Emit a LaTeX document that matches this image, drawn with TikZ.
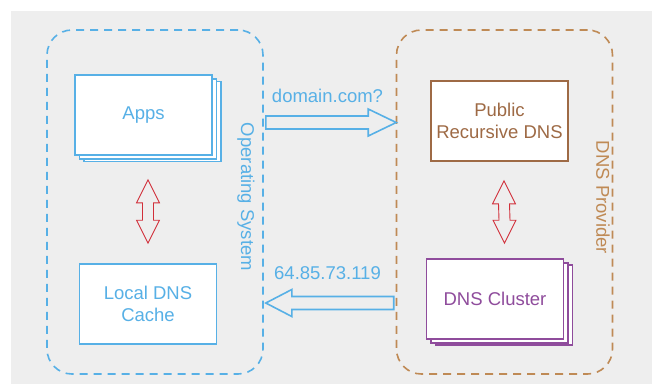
\documentclass[tikz,border=0pt]{standalone}
\usepackage{fontspec}
\setmainfont{Liberation Sans}
\usetikzlibrary{calc}
\definecolor{bgc}{HTML}{EEEEEE}
\definecolor{osblue}{HTML}{57B0E6}
\definecolor{provbrown}{HTML}{BF8A55}
\definecolor{boxbrown}{HTML}{9E6A45}
\definecolor{clpurple}{HTML}{8F4C9C}
\definecolor{arred}{HTML}{D12F3A}
\tikzset{
  every node/.style={font=\fontsize{18.5}{22}\selectfont, align=center, inner sep=0pt},
  container/.style={draw, line width=1.6pt, dash pattern=on 8pt off 6pt, rounded corners=25pt, minimum width=216pt, minimum height=344pt},
  procbox/.style={draw, fill=white, line width=1.6pt, minimum width=137pt, minimum height=80pt},
  bigarrow/.style={draw=osblue, line width=1.6pt, line join=miter},
  redarrow/.style={draw=arred, line width=0.9pt, line join=miter},
}
\newcommand\mydblarrow[2]{%
  \draw[redarrow] (#1) -- ($(#1)+(11.5,23)$) -- ($(#1)+(5.5,23)$) -- ($(#2)+(5.5,-23)$) -- ($(#2)+(11.5,-23)$) -- (#2)
    -- ($(#2)+(-11.5,-23)$) -- ($(#2)+(-5.5,-23)$) -- ($(#1)+(-5.5,23)$) -- ($(#1)+(-11.5,23)$) -- cycle;}
\begin{document}
\begin{tikzpicture}[x=1pt,y=-1pt]
\useasboundingbox (0,0) rectangle (652,384);
\fill[bgc] (11,11) rectangle (652,384);
% containers
\node[container, draw=osblue] (os) at (155,202) {};
\node[container, draw=provbrown] (prov) at (504.5,202) {};
\node[text=osblue, rotate=-90] (oslabel) at (246,197) {Operating System};
\node[text=provbrown, rotate=-90] (provlabel) at (603,197.5) {DNS Provider};
% apps stack
\node[procbox, draw=osblue] (apps3) at (152.5,121.5) {};
\node[procbox, draw=osblue] (apps2) at (148,119) {};
\node[procbox, draw=osblue, text=osblue] (apps) at (143.5,115) {Apps};
\node[procbox, draw=osblue, text=osblue] (local) at (148,304) {Local DNS\\Cache};
\node[procbox, draw=boxbrown, text=boxbrown] (pub) at (499.5,121) {Public\\Recursive DNS};
% cluster stack
\node[procbox, draw=clpurple] (cl3) at (504,305) {};
\node[procbox, draw=clpurple] (cl2) at (499.5,303) {};
\node[procbox, draw=clpurple, text=clpurple] (cl) at (495,299) {DNS Cluster};
% red double arrows
\coordinate (r1a) at ($(apps2.south)+(0,20)$);
\coordinate (r1b) at ($(local.north)+(0,-20)$);
\mydblarrow{r1a}{r1b}
\coordinate (r2a) at ($(pub.south)+(4.5,19)$);
\coordinate (r2b) at ($(cl.north)+(9.5,-15)$);
\mydblarrow{r2a}{r2b}
% query arrow
\coordinate (qa) at ($(os.east)+(2,-79.5)$);
\coordinate (qb) at ($(prov.west)+(0.5,-79.5)$);
\draw[bigarrow] ($(qa)+(0,6.5)$) -- ($(qb)+(-28,6.5)$) -- ($(qb)+(-28,13.5)$) -- (qb) -- ($(qb)+(-28,-13.5)$) -- ($(qb)+(-28,-6.5)$) -- ($(qa)+(0,-6.5)$) -- cycle;
\node[text=osblue] (qlabel) at (327.5,96) {domain.com?};
% answer arrow
\coordinate (aa) at ($(prov.west)+(-2,101)$);
\coordinate (ab) at ($(os.east)+(2,101)$);
\draw[bigarrow] ($(aa)+(0,6.5)$) -- ($(ab)+(26,6.5)$) -- ($(ab)+(26,13.5)$) -- (ab) -- ($(ab)+(26,-13.5)$) -- ($(ab)+(26,-6.5)$) -- ($(aa)+(0,-6.5)$) -- cycle;
\node[text=osblue] (alabel) at (327.5,273) {64.85.73.119};
\end{tikzpicture}
\end{document}
